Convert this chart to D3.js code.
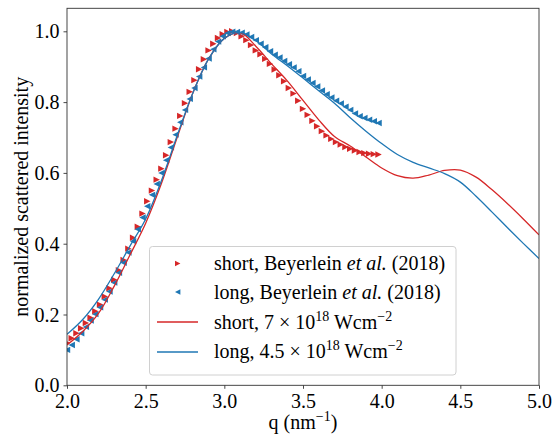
<!DOCTYPE html>
<meta charset="utf-8">
<style>
body { margin: 0; background: #fff; }
text { font-family: "Liberation Serif", "DejaVu Serif", serif; }
</style>
<svg width="560" height="436"></svg>
<script src="https://cdn.jsdelivr.net/npm/d3@7"></script>
<script>

// measured q grid for the experimental curves (nm^-1)
var qData = [2.00, 2.03, 2.06, 2.09, 2.12, 2.15, 2.18, 2.21, 2.24, 2.27,
             2.30, 2.33, 2.36, 2.39, 2.42, 2.45, 2.48, 2.51, 2.54, 2.57,
             2.60, 2.63, 2.66, 2.69, 2.72, 2.75, 2.78, 2.81, 2.84, 2.87,
             2.90, 2.93, 2.96, 2.99, 3.02, 3.05, 3.08, 3.11, 3.14, 3.17,
             3.20, 3.23, 3.26, 3.29, 3.32, 3.35, 3.38, 3.41, 3.44, 3.47,
             3.50, 3.53, 3.56, 3.59, 3.62, 3.65, 3.68, 3.71, 3.74, 3.77,
             3.80, 3.83, 3.86, 3.89, 3.92, 3.95, 3.98];

// short, Beyerlein et al. (2018)
var shortData = [0.120, 0.133, 0.147, 0.161, 0.176, 0.191, 0.209, 0.228, 0.251, 0.274,
                 0.298, 0.325, 0.354, 0.386, 0.417, 0.448, 0.485, 0.520, 0.550, 0.581,
                 0.612, 0.650, 0.687, 0.725, 0.761, 0.797, 0.829, 0.862, 0.893, 0.921,
                 0.946, 0.965, 0.981, 0.992, 0.998, 1.000, 0.995, 0.986, 0.975, 0.961,
                 0.946, 0.935, 0.922, 0.908, 0.892, 0.876, 0.859, 0.840, 0.824, 0.804,
                 0.781, 0.764, 0.747, 0.732, 0.718, 0.706, 0.696, 0.687, 0.680, 0.673,
                 0.668, 0.663, 0.659, 0.656, 0.654, 0.653, 0.652];

// long, Beyerlein et al. (2018)
var longData = [0.100, 0.114, 0.130, 0.147, 0.165, 0.183, 0.201, 0.220, 0.242, 0.265,
                0.290, 0.318, 0.346, 0.375, 0.407, 0.441, 0.474, 0.506, 0.538, 0.569,
                0.600, 0.636, 0.672, 0.708, 0.743, 0.778, 0.809, 0.840, 0.872, 0.898,
                0.923, 0.949, 0.971, 0.986, 0.995, 0.999, 0.998, 0.996, 0.991, 0.984,
                0.975, 0.965, 0.955, 0.944, 0.934, 0.926, 0.916, 0.907, 0.898, 0.887,
                0.874, 0.864, 0.854, 0.844, 0.833, 0.822, 0.813, 0.804, 0.796, 0.787,
                0.778, 0.768, 0.760, 0.755, 0.750, 0.746, 0.741];

// simulation q grid
var qSim = [2.0, 2.1, 2.2, 2.3, 2.4, 2.5, 2.6, 2.7, 2.8, 2.9,
            3.0, 3.1, 3.2, 3.3, 3.4, 3.5, 3.6, 3.7, 3.8, 3.9,
            4.0, 4.1, 4.2, 4.3, 4.4, 4.5, 4.6, 4.7, 4.8, 4.9, 5.0];

// short, 7e18 W/cm2
var shortSim = [0.114, 0.152, 0.203, 0.280, 0.368, 0.458, 0.570, 0.700, 0.826, 0.922,
                0.980, 0.996, 0.958, 0.908, 0.860, 0.805, 0.750, 0.703, 0.676, 0.645,
                0.614, 0.592, 0.585, 0.594, 0.607, 0.608, 0.588, 0.553, 0.513, 0.470, 0.425];

// long, 4.5e18 W/cm2
var longSim = [0.144, 0.186, 0.243, 0.315, 0.393, 0.470, 0.578, 0.705, 0.826, 0.922,
               0.980, 0.997, 0.974, 0.936, 0.903, 0.868, 0.832, 0.797, 0.756, 0.718,
               0.683, 0.652, 0.630, 0.614, 0.598, 0.574, 0.534, 0.490, 0.445, 0.401, 0.358];

var xTicks = [2.0, 2.5, 3.0, 3.5, 4.0, 4.5, 5.0];
var yTicks = [0.0, 0.2, 0.4, 0.6, 0.8, 1.0];

var red = "#d62728",
    blue = "#1f77b4";

var svg = d3.select("svg"),
    pL = 67, pR = 539, pT = 8.3, pB = 385.3;

var x = d3.scaleLinear().domain([2, 5]).range([pL, pR]),
    y = d3.scaleLinear().domain([0, 1.065]).range([pB, pT]);

svg.append("clipPath").attr("id", "clip")
  .append("rect")
    .attr("x", pL).attr("y", pT)
    .attr("width", pR - pL).attr("height", pB - pT);

var plot = svg.append("g").attr("clip-path", "url(#clip)");

function triRight(s) { return "M" + s + ",0L" + (-s) + "," + (-s) + "L" + (-s) + "," + s + "Z"; }
function triLeft(s) { return "M" + (-s) + ",0L" + s + "," + (-s) + "L" + s + "," + s + "Z"; }

function markers(vals, shape, color) {
  plot.append("g").selectAll("path")
      .data(qData.map(function(q, i) { return [q, vals[i]]; }))
    .enter().append("path")
      .attr("transform", function(d) { return "translate(" + x(d[0]) + "," + y(d[1]) + ")"; })
      .attr("d", shape(3.2))
      .attr("fill", color);
}

markers(shortData, triRight, red);
markers(longData, triLeft, blue);

var line = d3.line()
    .curve(d3.curveCatmullRom.alpha(0.5))
    .x(function(d) { return x(d[0]); })
    .y(function(d) { return y(d[1]); });

[[shortSim, red], [longSim, blue]].forEach(function(s) {
  plot.append("path")
      .datum(qSim.map(function(q, i) { return [q, s[0][i]]; }))
      .attr("fill", "none")
      .attr("stroke", s[1])
      .attr("stroke-width", 1.3)
      .attr("d", line);
});

// axes
var xAxis = svg.append("g")
    .attr("transform", "translate(0," + pB + ")")
    .call(d3.axisBottom(x).tickValues(xTicks).tickFormat(d3.format(".1f")).tickSize(3.5).tickPadding(4));
var yAxis = svg.append("g")
    .attr("transform", "translate(" + pL + ",0)")
    .call(d3.axisLeft(y).tickValues(yTicks).tickFormat(d3.format(".1f")).tickSize(3.5).tickPadding(4));

[xAxis, yAxis].forEach(function(a) {
  a.select(".domain").remove();
  a.selectAll("line").attr("stroke", "#333").attr("stroke-width", 0.9);
  a.selectAll("text").attr("fill", "#000").style("font-size", "20px")
      .style("font-family", "'Liberation Serif', serif");
});
xAxis.selectAll("text").attr("dy", "0.76em");
yAxis.selectAll("text").attr("dy", "0.33em");

svg.append("rect")
    .attr("x", pL).attr("y", pT)
    .attr("width", pR - pL).attr("height", pB - pT)
    .attr("fill", "none")
    .attr("stroke", "#333")
    .attr("stroke-width", 0.9);

// axis labels
var xl = svg.append("text")
    .attr("x", (pL + pR) / 2).attr("y", 429)
    .attr("text-anchor", "middle")
    .style("font-size", "20px");
xl.append("tspan").text("q (nm");
xl.append("tspan").attr("dy", -8).style("font-size", "14px").text("\u22121");
xl.append("tspan").attr("dy", 8).text(")");

svg.append("text")
    .attr("transform", "translate(28," + (pT + pB) / 2 + ") rotate(-90)")
    .attr("text-anchor", "middle")
    .style("font-size", "20px")
    .text("normalized scattered intensity");

// legend
var lg = svg.append("g");
lg.append("rect")
    .attr("x", 149.5).attr("y", 246.5)
    .attr("width", 306.5).attr("height", 128.5)
    .attr("rx", 3)
    .attr("fill", "#fff").attr("fill-opacity", 0.8)
    .attr("stroke", "#d0d0d0").attr("stroke-width", 1);

var entries = [
  {kind: "m", shape: triRight, color: red, y: 263.5},
  {kind: "m", shape: triLeft, color: blue, y: 292},
  {kind: "l", color: red, y: 322},
  {kind: "l", color: blue, y: 352}
];

entries.forEach(function(e) {
  if (e.kind === "m") {
    lg.append("path")
        .attr("transform", "translate(177.7," + e.y + ")")
        .attr("d", e.shape(2.7))
        .attr("fill", e.color);
  } else {
    lg.append("line")
        .attr("x1", 157).attr("x2", 198)
        .attr("y1", e.y).attr("y2", e.y)
        .attr("stroke", e.color).attr("stroke-width", 1.3);
  }
});

function legendText(yy) {
  return lg.append("text").attr("x", 214).attr("y", yy).style("font-size", "20px");
}

var t1 = legendText(270);
t1.append("tspan").text("short, Beyerlein ");
t1.append("tspan").style("font-style", "italic").text("et al.");
t1.append("tspan").text(" (2018)");

var t2 = legendText(298.5);
t2.append("tspan").text("long, Beyerlein ");
t2.append("tspan").style("font-style", "italic").text("et al.");
t2.append("tspan").text(" (2018)");

function simText(yy, label) {
  var t = legendText(yy);
  t.append("tspan").text(label + " \u00d7 10");
  t.append("tspan").attr("dy", -8).style("font-size", "14px").text("18");
  t.append("tspan").attr("dy", 8).text(" Wcm");
  t.append("tspan").attr("dy", -8).style("font-size", "14px").text("\u22122");
}
simText(328.5, "short, 7");
simText(357.5, "long, 4.5");

</script>
